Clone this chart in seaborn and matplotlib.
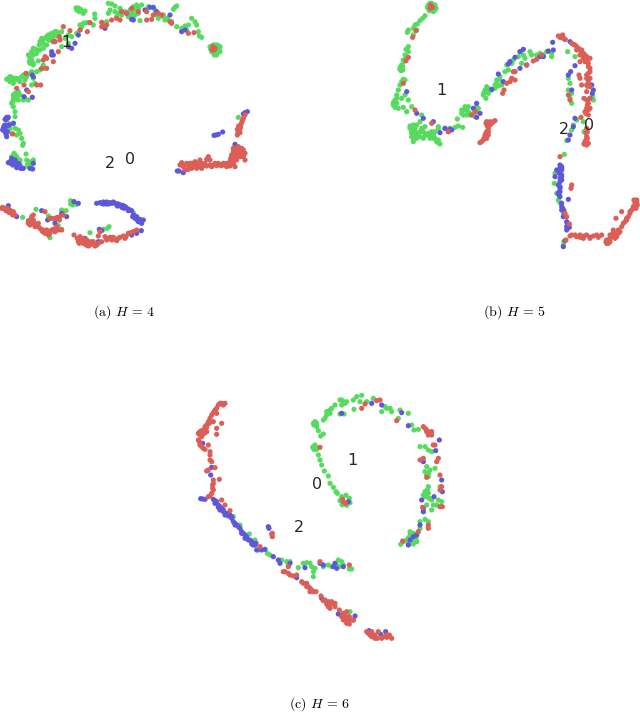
import matplotlib
matplotlib.use("Agg")
import matplotlib.pyplot as plt
import pandas as pd
import seaborn as sns

a_green = [(232,27),(240,30),(228,24),(245,35),(250,40),(255,33),(284,42),(285,55),(250,70),(258,68),(265,68),(245,80),(240,90),(230,100),(215,110),(205,105),
(165,95),(155,100),(145,105),(135,115),(125,125),(118,135),(130,145),(140,135),(150,120),(160,110),(175,100),(185,95),(150,105),(170,108),(195,115),(205,130),(185,140),(165,125),(108,148),(95,155),(85,165),(100,145),(120,150),
(95,180),(90,190),(100,195),(115,183),(130,195),(120,210),(130,205),(110,215),(95,215),(85,222),(70,225),(60,235),(75,240),(50,235),(30,230),(20,238),(30,245),(40,250),(45,235),(60,245),(35,238),(80,230),(100,235),(105,250),(95,255),
(55,275),(45,285),(40,295),(50,298),(60,285),(75,295),(85,300),(70,300),(35,310),(40,320),(45,335),(45,350),(25,370),(40,370),(30,385),(45,385),(55,390),(60,400),(50,405),(65,415),(70,430),(68,436),(35,400),
(42,460),(50,470),(35,470),(55,480),(45,490),(60,490),(80,480),(85,490),(90,500),(78,462),(95,485),(100,480),(82,495),(40,480),
(325,10),(335,12),(345,18),(330,30),(325,40),(360,25),(375,35),(365,45),(350,50),(385,50),(400,20),(410,15),(425,15),(395,35),(405,45),(415,40),(400,50),(420,62),(445,20),(440,35),(465,30),(470,45),(490,45),(500,55),(495,60),(520,28),(530,18),(525,22),(515,65),(530,80),(545,85),(555,78),(560,90),(575,55),(585,65),(590,75),(595,95),(605,112),(598,108),(565,75),(280,75),(310,70),(320,65),
(640,135),(652,135),(658,147),(652,158),(640,158),(632,147),(647,147),
(715,352),(212,602),(220,605),(228,612),(218,615),(212,612),(232,612),(68,652),(108,628),(145,648),(165,660),(185,630),(198,632),(150,713),(175,677),(185,688),(270,698),(310,688),(327,680),(322,685),(400,638),
(230,30),(235,24),(238,35),(242,28),(125,115),(130,130),(120,125),(140,110),(160,100),(170,95),(155,115),(145,120),(110,160),(100,165),(90,175),(88,185),(100,190),(25,235),(35,232),(40,245),(55,240),(65,230),(45,280),(50,290),(40,285),(55,300),(45,295),(38,305),(85,485),(90,490),(92,495),(85,500),(45,465),(50,480),(40,470),(60,480),(645,135),(660,140),(660,155),(635,155),(630,140),(650,165),(643,165),(345,35),(390,30),(405,30),(355,40),(415,25),(395,45),(490,50),(505,60),(475,55),(240,75)]
a_blue = [(22,355),(18,358),(25,352),(15,375),(10,385),(15,395),(12,378),(20,410),(28,375),(40,370),(18,402),(8,390),
(30,485),(35,475),(45,480),(38,495),(55,500),(65,505),(60,498),(70,505),(90,505),(98,507),(100,490),(55,490),(25,488),
(155,155),(160,165),(155,165),(100,230),(97,225),(80,270),(97,292),(72,290),(235,105),(225,130),(215,145),(205,140),(315,85),(380,40),(395,58),(400,60),(435,30),(450,22),(460,22),(470,35),(510,45),(555,90),(545,95),
(655,403),(648,405),(642,406),(668,396),(735,338),(742,335),(730,342),(705,433),(532,513),(537,513),(550,518),
(300,608),(310,606),(320,606),(330,608),(345,610),(360,615),(375,620),(385,628),(395,632),(310,612),(325,612),(340,606),(350,612),(368,616),(380,624),(400,645),(410,650),(420,658),(430,660),(415,665),(405,655),(425,670),(398,650),(290,610),(318,612),(365,622),
(424,692),(395,705),(410,700),(298,688),(305,692),(25,617),(50,650),(125,632),(143,660),(185,640),(200,650),(222,605),(235,610),(100,665),(255,715),(295,725),(165,670),
(305,610),(315,608),(335,610),(355,612),(370,618),(390,630),(405,648),(412,660),(420,665),(402,650),(352,618),(372,625),(385,632),(15,385),(20,378),(22,395),(12,390),(15,358),(20,352),(32,490),(42,490),(50,503),(62,505)]
a_red = [(190,80),(165,125),(160,125),(180,120),(210,92),(178,110),(240,90),(262,95),(270,68),(305,67),(315,78),(320,75),(335,60),(350,55),(360,60),(305,80),(365,35),(380,40),(395,25),(415,35),(440,60),(455,58),(440,35),(460,45),(485,45),(475,40),(510,65),(515,70),(565,100),(582,98),(135,170),(130,180),(140,175),(160,185),(175,155),(140,205),(125,205),(78,220),(72,255),(50,265),(85,275),(110,255),(122,255),(38,402),
(638,140),(642,150),(636,150),(645,145),
(715,395),(712,405),(718,385),(722,375),(725,368),(730,355),(735,345),(712,388),(720,398),(716,378),
(705,445),(700,455),(712,450),(725,445),(735,460),(720,470),(705,470),(695,465),(730,470),(710,480),(700,490),(690,485),(680,490),(670,490),(680,500),(690,498),(705,500),(660,495),(650,497),(640,495),(630,495),(620,498),(625,470),(620,478),(600,480),(605,490),(600,500),(590,490),(580,495),(570,490),(560,490),(545,488),(540,495),(550,500),(565,508),(575,505),(590,505),(605,505),(585,500),(555,510),(630,480),(735,480),
(8,622),(15,628),(25,635),(35,640),(45,645),(20,625),(30,630),(12,625),(40,635),(85,670),(95,650),(100,645),(100,660),(90,675),(105,680),(115,680),(125,690),(135,700),(145,695),(155,690),(165,695),(175,690),(145,705),(115,670),(135,635),(150,655),(165,655),(180,650),(190,645),(178,660),(130,690),(185,690),
(222,705),(240,710),(235,725),(250,715),(260,720),(270,735),(280,725),(295,730),(290,735),(265,738),(250,730),(245,720),(305,725),(315,710),(325,715),(340,712),(355,715),(370,708),(385,700),(400,695),(410,690),(295,708),(350,722),(375,715),(300,695),
(548,493),(555,495),(565,497),(575,490),(585,485),(595,495),(610,497),(615,490),(635,500),(645,490),(655,490),(665,497),(675,495),(685,495),(695,490),(700,478),(710,465),(720,455),(730,450),(700,445),(715,440),(710,460),(725,460),(692,475),(714,400),(718,392),(722,382),(727,362),
(5,625),(18,632),(28,638),(38,645),(92,660),(85,662),(95,668),(100,672),(110,675),(120,685),(128,695),(140,690),(150,700),(160,688),(135,695),(170,680),(155,655),(172,652),
(232,715),(240,720),(255,725),(265,730),(275,730),(285,738),(258,735),(272,725),(238,730),(320,720),(330,712),(345,718),(360,712),(335,720),(378,710),(392,698)]

b_green = [(145,15),(155,10),(165,15),(168,25),(160,35),(148,32),(142,22),
(135,47),(128,55),(120,62),(112,72),(105,75),(100,85),(85,90),(82,97),(100,105),(110,90),
(85,140),(78,148),(85,155),(75,165),(70,180),(65,195),(60,205),(68,210),(72,185),(80,175),(63,212),
(70,238),(65,245),(60,255),(55,270),(50,285),(45,300),(40,315),(45,322),(55,325),(70,322),(80,335),(65,295),(75,285),(85,300),(95,320),(50,310),(75,240),
(100,375),(90,378),(110,375),(120,365),(100,390),(95,400),(110,400),(125,385),(130,395),(140,405),(150,415),(160,415),(175,420),(180,432),(175,385),(165,395),(100,425),(110,415),(95,410),(120,410),(130,415),(145,400),(155,395),(175,380),(125,345),(135,380),(210,385),(225,382),(235,378),(248,382),(232,357),(195,385),(170,425),(105,395),
(245,330),(255,320),(265,320),(250,345),(265,335),(270,345),(285,350),(290,320),(295,325),(280,340),
(320,260),(315,270),(325,280),(310,285),(318,295),(335,270),(345,255),(350,240),(360,230),(345,265),(355,258),(365,255),(375,215),(385,210),(380,195),(390,185),(400,180),(415,170),(430,165),(425,190),(435,175),(405,215),(450,155),(455,165),(470,165),(480,160),(490,165),(500,155),(515,160),(515,170),(420,155),(395,190),
(563,155),(585,170),(565,235),(570,250),(565,270),(575,280),(570,295),(575,310),(590,360),(580,375),(575,390),(560,422),(610,365),(612,395),(638,290),(622,260),(640,300),
(553,463),(523,550),(525,520),(530,580),(535,600),(540,608),(552,725),(550,735),
(60,208),(68,200),(62,200),(50,295),(45,305),(40,308),(100,400),(105,410),(95,395),(110,410),(120,395),(135,405),(150,405),(160,405),(165,415),(175,428),(100,415),(105,385),(90,385),(320,270),(312,278),(325,265),(350,250),(360,240),(255,330),(245,340),(260,345),(145,25),(165,30),(150,10)]
b_blue = [(518,127),(570,125),(585,197),(572,215),(565,225),(520,150),(505,153),(490,170),(480,170),(430,148),(420,155),(405,172),(390,185),(385,192),(420,205),(440,195),(355,222),(370,245),(335,268),(290,310),(280,325),(300,340),(290,352),(110,340),(130,355),(160,365),(180,398),(195,385),(205,395),(215,390),(210,388),(575,270),(640,270),(637,280),(585,355),(580,380),(570,405),(565,420),(635,255),(555,118),(80,275),(630,295),
(540,495),(545,505),(540,515),(545,525),(540,535),(540,545),(530,510),(525,530),(540,560),(538,575),(540,590),(545,610),(548,625),(552,640),(560,665),(565,675),(560,690),(555,722),(550,740),(630,712),(565,598),(535,580),(545,500),(550,650),(568,682),(540,575),
(545,510),(540,505),(538,520),(545,530),(545,540),(535,555),(540,565),(537,585),(545,620),(552,632),(560,680),(562,670),(545,630)]
b_red = [(152,15),(158,22),(150,25),
(545,108),(540,112),(550,115),(555,118),(575,130),(585,135),(595,145),(605,150),(610,160),(600,165),(620,170),(630,175),(615,185),(625,200),(630,215),(620,225),(630,235),(597,225),(600,235),(605,255),(620,255),(630,260),(620,275),(612,295),(620,300),(630,295),(622,315),(630,325),(615,335),(625,345),(620,385),(618,400),(622,415),(615,425),(620,435),(590,150),(610,175),(600,185),(603,352),
(70,250),(85,172),(78,182),(108,92),(98,112),(105,330),(155,370),(205,395),(275,345),(287,335),(400,215),(395,235),(405,240),(390,245),(380,250),(372,270),(368,280),(405,215),(440,195),(470,178),(460,183),(565,285),(570,300),(485,165),
(320,365),(340,365),(330,375),(325,385),(320,395),(315,405),(320,415),(310,420),(300,428),(318,370),(345,362),(325,405),
(540,470),(575,555),(573,565),(568,672),(560,650),(555,640),(558,720),(570,708),(585,705),(600,705),(610,715),(620,705),(640,708),(655,712),(665,705),(600,712),(680,720),(685,730),(695,710),(700,700),(710,700),(715,690),(725,680),(735,665),(745,650),(755,630),(765,610),(770,600),(760,620),(772,615),(750,635),(725,635),(740,660),(708,655),(690,715),(705,715),(720,695),(680,730),(690,725),(700,690),
(545,112),(535,108),(548,105),(580,133),(590,140),(600,150),(605,160),(615,165),(620,180),(625,190),(630,205),(625,220),(620,235),(625,245),(615,175),(625,310),(620,325),(617,340),(625,330),(622,395),(620,410),(618,420),(625,430),(612,432),
(700,710),(710,710),(690,705),(715,700),(730,670),(740,655),(750,640),(762,625),(770,608),(762,600),(768,625),(678,725),(325,395),(318,400),(312,415),(305,425),(335,370),(322,378),(330,365),(575,705),(590,710),(612,708),(630,715),(650,705)]

c_green = [(455,320),(468,316),(478,325),(480,338),(470,346),(456,344),(450,332),
(375,95),(370,100),(380,110),(385,122),(378,108),(400,132),(392,138),(375,165),(368,172),(380,178),(385,195),(390,210),(395,225),(403,243),(415,258),(420,280),(430,292),(438,305),(442,310),
(400,90),(410,75),(415,65),(425,55),(420,70),(405,85),(435,45),(450,30),(460,35),(455,45),(470,35),(490,30),(500,20),(515,16),(492,58),(510,35),(530,35),(550,25),(575,65),(585,50),(600,55),(605,65),(630,60),(655,70),(625,85),(665,105),(672,120),(685,118),(450,72),(462,72),(590,55),
(690,170),(705,170),(715,180),(725,185),(710,230),(705,245),(715,250),(735,235),(720,240),(710,255),(715,260),(715,290),(705,305),(710,320),(725,330),(700,315),(740,345),(730,345),(755,335),(745,330),(710,345),(700,365),(725,360),(715,395),(705,388),(690,395),(690,415),(680,435),(670,430),(660,425),(665,440),(680,455),(670,462),(640,455),(632,463),(650,450),(655,460),(750,290),
(130,380),(150,405),(178,432),(195,450),(232,490),(240,495),(275,510),(290,515),(300,515),(295,527),
(340,520),(350,518),(360,520),(325,533),(365,530),(370,545),(375,535),(370,560),(400,530),(415,525),(425,530),(445,510),(455,515),(440,525),(460,525),(478,537),(485,537),(448,530),(205,480),(480,665),
(375,100),(372,105),(380,100),(370,170),(378,172),(372,178),(665,430),(655,445),(672,450),(668,455),(660,435),(678,445),(410,65),(420,60),(455,30),(465,40),(705,320),(715,310),(712,300),(718,325)]
c_blue = [(38,327),(45,328),(32,326),(70,328),(75,340),(85,345),(95,355),(100,365),(110,370),(120,375),(130,395),(140,405),(150,415),(160,430),(170,440),(185,455),(195,465),(90,360),(80,335),(105,375),(125,385),(135,400),(165,435),(155,425),(190,460),(180,450),(215,480),(200,480),(225,478),(250,500),(265,510),(270,520),(300,520),(235,410),(237,415),
(65,232),(62,255),(38,160),(345,533),(390,520),(400,525),(430,530),(440,535),(460,530),(435,520),(320,563),(455,70),(545,40),(575,45),(635,68),(655,107),(748,150),(737,182),(697,210),(700,215),(755,270),(757,305),(732,320),(695,330),(700,355),(700,365),(690,405),(670,440),(660,450),(655,465),(680,435),(445,672),(495,678),(490,690),(395,625),(537,722),(572,733),(587,725),(475,335),
(100,360),(115,378),(125,380),(135,405),(145,410),(155,430),(165,445),(175,450),(190,465),(185,462),(198,460),(85,352),(75,332),(90,350)]
c_red = [(95,40),(85,45),(105,40),(75,60),(80,70),(65,75),(55,95),(60,85),(45,110),(40,120),(30,125),(50,125),(35,140),(25,130),(25,150),(30,165),(40,175),(55,165),(60,185),(60,210),(65,215),(75,233),(50,243),(55,240),(88,268),(70,270),(68,285),(70,300),(65,310),(55,320),(95,100),(80,115),(80,133),(50,105),(70,95),
(95,330),(105,345),(120,362),(210,470),(247,430),(247,440),(245,432),(295,530),(280,545),(295,550),(310,558),(320,555),(335,575),(350,580),(355,590),(365,600),(378,605),(360,595),(393,618),(400,632),(415,635),(430,640),(435,650),(420,655),(410,642),(448,660),(460,670),(470,680),(480,690),(460,690),(478,702),(490,690),(470,665),
(530,725),(540,735),(550,740),(555,745),(565,725),(580,740),(590,735),(600,740),(605,745),(545,725),
(390,515),(478,525),(390,172),(515,55),(570,30),(560,32),(525,42),(620,92),(700,110),(710,120),(720,130),(725,125),(715,135),(730,165),(735,165),(700,205),(690,210),(745,205),(740,215),(750,255),(755,290),(750,300),(710,262),(757,350),(750,350),(698,352),(715,405),(715,415),(685,425),(638,453),
(460,335),(466,340),(458,328),
(90,40),(100,45),(80,55),(70,68),(58,100),(50,112),(42,125),(30,135),(38,130),(28,155),(35,170),(45,178),(60,195),(70,280),(68,295),(60,318),(43,130),(35,122),(75,65),
(350,590),(360,605),(370,605),(340,580),(285,545),(300,555),(420,645),(425,635),(415,650),(435,640),(405,630),(465,680),(470,690),(478,680),(455,680),(470,700),(535,730),(545,740),(555,735),(590,742),(598,735),(562,745),(575,745),(710,125),(715,125),(725,135),(705,115)]

classes = ["0", "1", "2"]
palette = dict(zip(classes, sns.color_palette("hls", 3)))
captions = ["(a) ", "(b) ", "(c) "]
h_values = ["4", "5", "6"]

sns.set_theme(style="white")
plt.rcParams["mathtext.fontset"] = "cm"

W, H = 640, 712
fig = plt.figure(figsize=(6.4, 7.12), dpi=100, facecolor="white")

panels = [
    dict(rect=(0, 0, 250, 250), green=a_green, blue=a_blue, red=a_red,
         labels={"1": (200, 128), "2": (331, 492), "0": (391, 480)}, cap=(124, 316)),
    dict(rect=(380, 0, 260, 250), green=b_green, blue=b_blue, red=b_red,
         labels={"1": (183, 272), "2": (553, 388), "0": (627, 378)}, cap=(514, 316)),
    dict(rect=(190, 390, 260, 260), green=c_green, blue=c_blue, red=c_red,
         labels={"1": (488, 212), "0": (382, 285), "2": (327, 412)}, cap=(320, 708)),
]

for p, cap, hv in zip(panels, captions, h_values):
    x0, y0, w, h = p["rect"]
    ax = fig.add_axes([x0 / W, 1 - (y0 + h) / H, w / W, h / H])
    rows = ([("1", *q) for q in p["green"]] + [("2", *q) for q in p["blue"]]
            + [("0", *q) for q in p["red"]])
    df = pd.DataFrame(rows, columns=["label", "x", "y"])
    sns.scatterplot(data=df, x="x", y="y", hue="label", palette=palette, s=14,
                    linewidth=0, legend=False, ax=ax)
    ax.set_xlim(0, w * 3)
    ax.set_ylim(h * 3, 0)
    ax.axis("off")
    for t, (tx, ty) in p["labels"].items():
        ax.text(tx, ty, t, ha="center", va="center", fontsize=11.5,
                color="#262626", family="DejaVu Sans")
    cx, cy = p["cap"]
    fig.text(cx / W, 1 - cy / H, cap + r"$H\,=\,$" + "$" + hv + "$", ha="center", va="baseline",
             fontsize=10, family="cmr10", color="black")

fig.savefig("out.png", dpi=100)
